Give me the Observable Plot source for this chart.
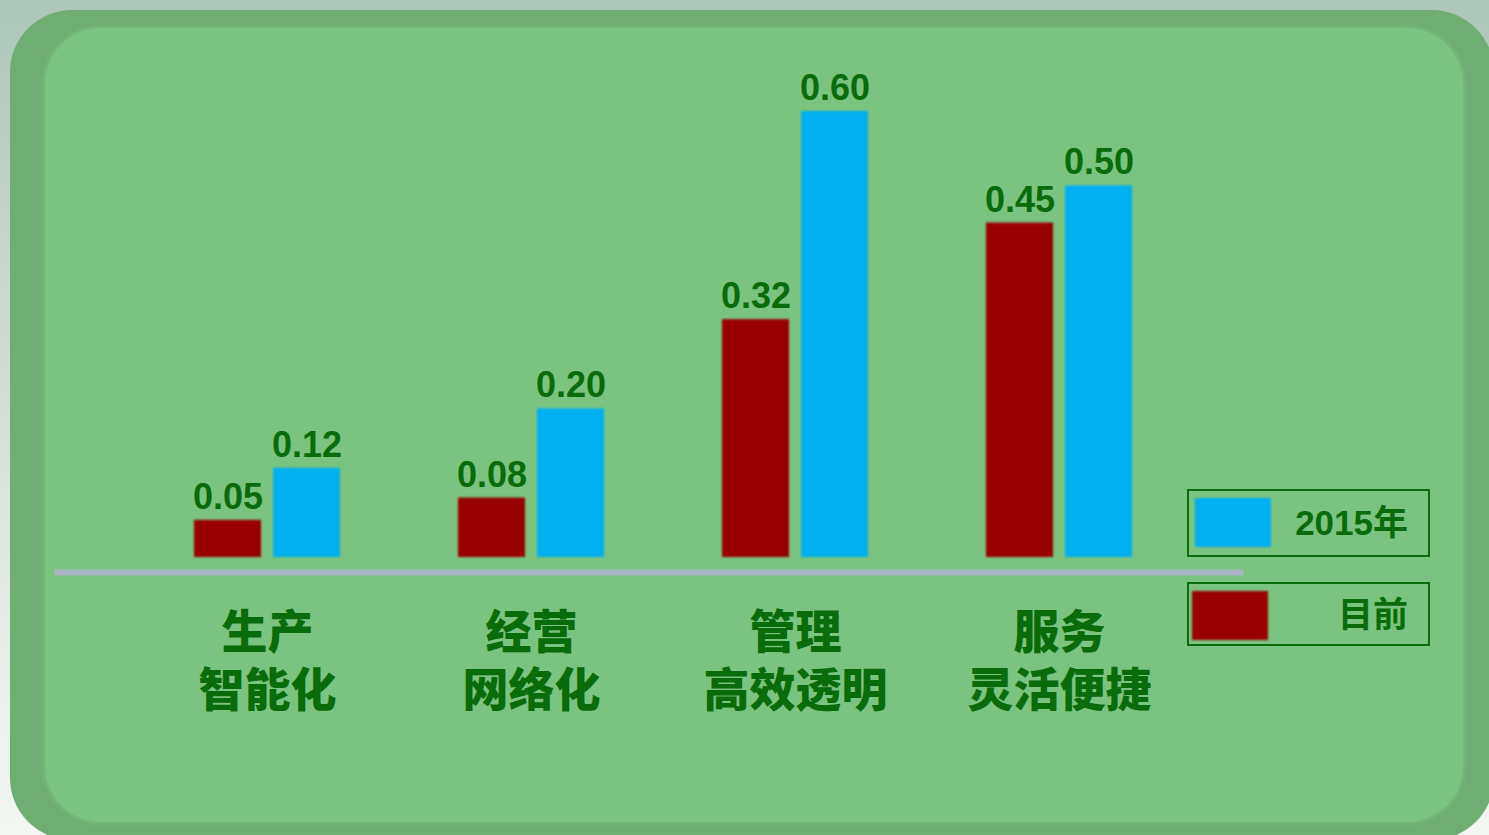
<!DOCTYPE html>
<html>
<head>
<meta charset="utf-8">
<script src="https://cdn.jsdelivr.net/npm/d3@7"></script>
<script src="https://cdn.jsdelivr.net/npm/@observablehq/plot@0.6"></script>
<style>
  html, body { margin: 0; padding: 0; width: 1489px; height: 835px; overflow: hidden; }
  body { background: linear-gradient(to bottom, #adc6b9 0%, #d6e3db 55%, #f4f7f4 100%); position: relative;
         font-family: "Liberation Sans", Arial, "Noto Sans CJK SC", sans-serif; }
  #outer { position: absolute; left: 10px; top: 10px; width: 1484px; height: 830px; border-radius: 62px; background: #6fae72; }
  #inner { position: absolute; left: 45px; top: 28px; width: 1418px; height: 794px; border-radius: 56px; background: #7bc47f;
           box-shadow: 0 0 4px 2px rgba(123,196,127,0.6); }
  #chart { position: absolute; left: 0; top: 0; }
  #chart svg g[aria-label="bar"] rect { filter: blur(0.8px); }
  .leg { position: absolute; left: 1187px; width: 243px; border: 2px solid #0a6b0a; box-sizing: border-box; }
  .sw { position: absolute; width: 76px; height: 49px; filter: blur(1px); }
  .lt { position: absolute; right: 20px; top: 0; font-size: 35px; font-weight: bold; color: #0a6b0a;
        font-family: "Liberation Sans", Arial, "Noto Sans CJK SC", sans-serif; }
</style>
</head>
<body>
<div id="outer"></div>
<div id="inner"></div>
<div id="chart"></div>
<div class="leg" id="leg1" style="top:489px;height:68px"><div class="sw" style="left:6px;top:7px;background:#00b0f0"></div><div class="lt" style="line-height:64px">2015年</div></div>
<div class="leg" id="leg2" style="top:582px;height:64px"><div class="sw" style="left:3px;top:7px;background:#990000"></div><div class="lt" style="line-height:62px">目前</div></div>
<script>
const categories = ["生产\n智能化", "经营\n网络化", "管理\n高效透明", "服务\n灵活便捷"];
const seriesNames = ["目前", "2015年"];
const current = [0.05, 0.08, 0.32, 0.45];
const target2015 = [0.12, 0.20, 0.60, 0.50];

const data = [];
categories.forEach((c, i) => {
  data.push({category: c, series: seriesNames[0], value: current[i]});
  data.push({category: c, series: seriesNames[1], value: target2015[i]});
});

const green = "#0a6b0a";
const chart = Plot.plot({
  width: 1489,
  height: 835,
  marginTop: 111,
  marginBottom: 278,
  marginLeft: 88,
  marginRight: 251,
  style: {background: "transparent", fontFamily: "'Liberation Sans', Arial, 'Noto Sans CJK SC', sans-serif"},
  fx: {domain: categories, paddingInner: 0.447, paddingOuter: 0.4015, label: null},
  x: {domain: seriesNames, paddingInner: 0.152, paddingOuter: 0, axis: null},
  y: {domain: [0, 0.6], axis: null},
  color: {domain: seriesNames, range: ["#990000", "#00b0f0"]},
  marks: [
    Plot.frame({anchor: "bottom", facet: "super", dy: 15, stroke: "#a9b3c6", strokeWidth: 6, insetLeft: -137, insetRight: -108}),
    Plot.barY(data, {fx: "category", x: "series", y: "value", fill: "series"}),
    Plot.text(data, {fx: "category", x: "series", y: "value", text: d => d.value.toFixed(2), dy: -23,
      fontSize: 36, fontWeight: "bold", fill: green}),
    Plot.axisFx({anchor: "bottom", tickSize: 0, tickPadding: 49, fontSize: 46, fontWeight: 900,
      fill: green, lineHeight: 1.26, label: null, fontFamily: "'Noto Sans CJK SC', sans-serif"})
  ]
});
document.getElementById("chart").appendChild(chart);
</script>
</body>
</html>
